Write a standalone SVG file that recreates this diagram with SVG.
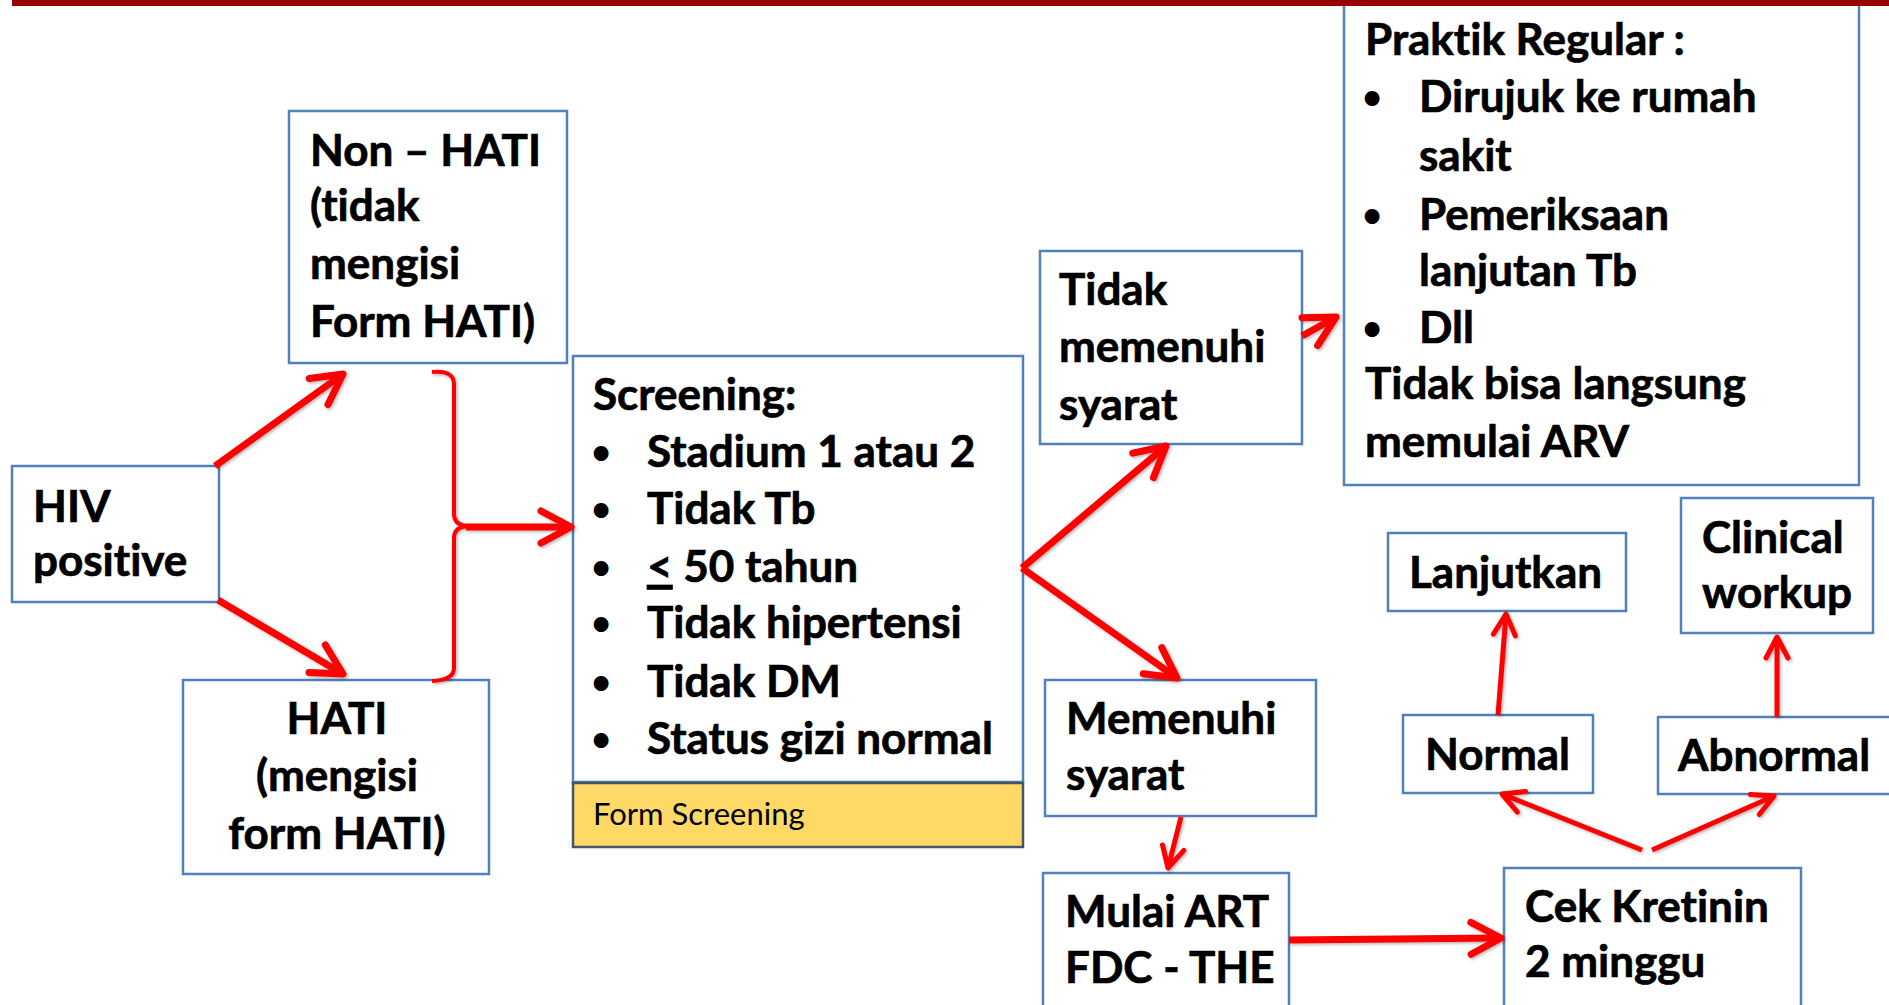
<svg xmlns="http://www.w3.org/2000/svg" width="1889" height="1005" viewBox="0 0 1889 1005">
<style>
.box{fill:#fff;stroke:#4F81BD;stroke-width:2.5}
.form{fill:#FFD966;stroke:#44546A;stroke-width:2.5}
.t{font-family:Lato,"Liberation Sans",sans-serif;font-weight:bold;font-size:44px;fill:#000;stroke:#000;stroke-width:0.7;font-variant-ligatures:none;font-feature-settings:"liga" 0,"clig" 0,"calt" 0,"dlig" 0}
.b{font-family:Lato,"Liberation Sans",sans-serif;font-weight:bold;font-size:34px;fill:#000}
.r{font-family:Lato,"Liberation Sans",sans-serif;font-weight:normal;font-size:31px;fill:#000;font-variant-ligatures:none;font-feature-settings:"liga" 0,"clig" 0,"calt" 0,"dlig" 0}
.c{fill:none;stroke:#FF0000;stroke-linecap:butt;stroke-linejoin:round}
.big{stroke-width:7;marker-end:url(#ah)}
.small{stroke-width:5;marker-end:url(#as)}
</style>
<defs>
<marker id="ah" markerUnits="userSpaceOnUse" viewBox="-40 -24 46 48" markerWidth="46" markerHeight="48" refX="0" refY="0" orient="auto">
<path d="M-30,-16 L0,0 L-30,16" fill="none" stroke="#FF0000" stroke-width="7" stroke-linecap="round" stroke-linejoin="round"/>
</marker>
<marker id="as" markerUnits="userSpaceOnUse" viewBox="-30 -18 36 36" markerWidth="36" markerHeight="36" refX="0" refY="0" orient="auto">
<path d="M-21,-11 L0,0 L-21,11" fill="none" stroke="#FF0000" stroke-width="5" stroke-linecap="round" stroke-linejoin="round"/>
</marker>
<filter id="sh" x="-10%" y="-10%" width="120%" height="120%">
<feDropShadow dx="1.5" dy="1.5" stdDeviation="1.5" flood-color="#000" flood-opacity="0.3"/>
</filter>
</defs>
<rect width="1889" height="1005" fill="#fff"/>

<g id="praktik">
<rect class="box" x="1344" y="2" width="515" height="483"/>
<text class="t" x="1365" y="55">Praktik Regular :</text>
<text class="b" x="1372" y="109" text-anchor="middle">•</text>
<text class="t" x="1419" y="112">Dirujuk ke rumah</text>
<text class="t" x="1419" y="171">sakit</text>
<text class="b" x="1372" y="227" text-anchor="middle">•</text>
<text class="t" x="1419" y="230">Pemeriksaan</text>
<text class="t" x="1419" y="286">lanjutan Tb</text>
<text class="b" x="1372" y="340" text-anchor="middle">•</text>
<text class="t" x="1419" y="343">Dll</text>
<text class="t" x="1365" y="399">Tidak bisa langsung</text>
<text class="t" x="1365" y="457">memulai ARV</text>
</g>

<rect id="topbar" x="12" y="0" width="1877" height="6" fill="#990000"/>

<g id="non-hati">
<rect class="box" x="289" y="111" width="278" height="252"/>
<text class="t" x="310" y="166">Non – HATI</text>
<text class="t" x="310" y="221">(tidak</text>
<text class="t" x="310" y="279">mengisi</text>
<text class="t" x="310" y="337">Form HATI)</text>
</g>

<g id="hiv">
<rect class="box" x="12" y="466" width="207" height="136"/>
<text class="t" x="33" y="522">HIV</text>
<text class="t" x="33" y="576">positive</text>
</g>

<g id="hati">
<rect class="box" x="183" y="680" width="306" height="194"/>
<text class="t" x="337" y="734" text-anchor="middle">HATI</text>
<text class="t" x="337" y="791" text-anchor="middle">(mengisi</text>
<text class="t" x="337" y="849" text-anchor="middle">form HATI)</text>
</g>

<g id="screening">
<rect class="box" x="573" y="356" width="450" height="426"/>
<text class="t" x="593" y="410">Screening:</text>
<text class="b" x="601" y="464" text-anchor="middle">•</text>
<text class="t" x="647" y="467">Stadium 1 atau 2</text>
<text class="b" x="601" y="521" text-anchor="middle">•</text>
<text class="t" x="647" y="524">Tidak Tb</text>
<text class="b" x="601" y="579" text-anchor="middle">•</text>
<text class="t" x="647" y="582"><tspan text-decoration="underline">&lt;</tspan> 50 tahun</text>
<text class="b" x="601" y="635" text-anchor="middle">•</text>
<text class="t" x="647" y="638">Tidak hipertensi</text>
<text class="b" x="601" y="694" text-anchor="middle">•</text>
<text class="t" x="647" y="697">Tidak DM</text>
<text class="b" x="601" y="751" text-anchor="middle">•</text>
<text class="t" x="647" y="754">Status gizi normal</text>
</g>

<g id="form-screening">
<rect class="form" x="573" y="783" width="450" height="64"/>
<text class="r" x="593" y="825">Form Screening</text>
</g>

<g id="tidak-memenuhi">
<rect class="box" x="1040" y="251" width="262" height="193"/>
<text class="t" x="1059" y="305">Tidak</text>
<text class="t" x="1059" y="362">memenuhi</text>
<text class="t" x="1059" y="420">syarat</text>
</g>

<g id="memenuhi">
<rect class="box" x="1045" y="680" width="271" height="136"/>
<text class="t" x="1066" y="734">Memenuhi</text>
<text class="t" x="1066" y="790">syarat</text>
</g>

<g id="mulai-art">
<rect class="box" x="1043" y="873" width="246" height="140"/>
<text class="t" x="1065" y="927">Mulai ART</text>
<text class="t" x="1065" y="983">FDC - THE</text>
</g>

<g id="cek-kretinin">
<rect class="box" x="1504" y="868" width="297" height="145"/>
<text class="t" x="1525" y="922">Cek Kretinin</text>
<text class="t" x="1525" y="977">2 minggu</text>
</g>

<g id="lanjutkan">
<rect class="box" x="1388" y="533" width="238" height="78"/>
<text class="t" x="1409" y="588">Lanjutkan</text>
</g>

<g id="clinical-workup">
<rect class="box" x="1681" y="498" width="192" height="135"/>
<text class="t" x="1702" y="553">Clinical</text>
<text class="t" x="1702" y="608">workup</text>
</g>

<g id="normal">
<rect class="box" x="1403" y="715" width="190" height="78"/>
<text class="t" x="1425" y="770">Normal</text>
</g>

<g id="abnormal">
<rect class="box" x="1658" y="717" width="240" height="77"/>
<text class="t" x="1678" y="771">Abnormal</text>
</g>

<g id="connectors" filter="url(#sh)">
<path class="c" stroke-width="4" d="M432,372 Q454,370 454,384 L454,514 Q454,526 470,526 Q454,526 454,538 L454,668 Q454,680 432,681"/>
<path class="c big" d="M215,466 L343,374"/>
<path class="c big" d="M218,600 L343,674"/>
<path class="c big" d="M466,527 L571,527"/>
<path class="c big" d="M1022,568 L1166,446"/>
<path class="c big" d="M1022,568 L1177,678"/>
<path class="c big" d="M1302,336 L1336,317"/>
<path class="c big" d="M1289,940 L1501,938"/>
<path class="c small" d="M1181,817 L1168,868"/>
<path class="c small" d="M1498,715 L1506,614"/>
<path class="c small" d="M1777,717 L1777,637"/>
<path class="c small" d="M1642,850 L1502,794"/>
<path class="c small" d="M1652,850 L1774,796"/>
</g>
</svg>
